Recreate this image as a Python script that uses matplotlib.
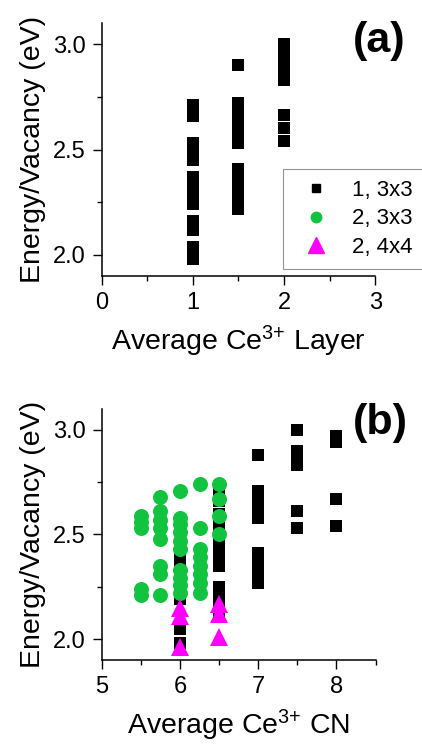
import matplotlib
matplotlib.use('Agg')
import matplotlib.pyplot as plt
from matplotlib.lines import Line2D
from matplotlib.ticker import MultipleLocator, FormatStrFormatter

plt.rcParams['font.family'] = ['Liberation Sans', 'DejaVu Sans']
plt.rcParams['mathtext.fontset'] = 'custom'
plt.rcParams['mathtext.rm'] = 'Liberation Sans'
plt.rcParams['mathtext.default'] = 'regular'

# panel (a): energy vs average Ce3+ layer (set "1, 3x3")
layer_x = [1.0, 1.5, 2.0]
layer_e = [
    [2.71, 2.66, 2.53, 2.49, 2.45, 2.37, 2.32, 2.28, 2.24, 2.16, 2.12, 2.04, 1.98],
    [2.90, 2.72, 2.68, 2.63, 2.58, 2.53, 2.41, 2.36, 2.31, 2.27, 2.22],
    [3.00, 2.97, 2.94, 2.90, 2.87, 2.83, 2.665, 2.60, 2.54],
]

# panel (b): energy vs average Ce3+ CN
sq_cn = [6.0, 6.5, 7.0, 7.5, 8.0]
sq_e = [
    [2.39, 2.34, 2.29, 2.24, 2.19, 2.05, 1.98],
    [2.70, 2.66, 2.60, 2.55, 2.50, 2.45, 2.40, 2.35, 2.25, 2.21, 2.17, 2.13],
    [2.88, 2.71, 2.67, 2.63, 2.58, 2.41, 2.36, 2.31, 2.27],
    [3.00, 2.90, 2.87, 2.83, 2.61, 2.53],
    [2.97, 2.94, 2.67, 2.54],
]
circ_cn = [5.5, 5.75, 6.0, 6.25, 6.5]
circ_e = [
    [2.59, 2.56, 2.53, 2.24, 2.21],
    [2.68, 2.61, 2.57, 2.53, 2.48, 2.35, 2.31, 2.21],
    [2.71, 2.58, 2.55, 2.51, 2.47, 2.43, 2.33, 2.29, 2.26, 2.22],
    [2.74, 2.53, 2.43, 2.39, 2.35, 2.31, 2.27, 2.22],
    [2.74, 2.67, 2.59, 2.50],
]
tri_cn = [6.0, 6.5]
tri_e = [
    [2.15, 2.11, 1.96],
    [2.17, 2.12, 2.01],
]

labels = ['1, 3x3', '2, 3x3', '2, 4x4']
green = '#12C340'
magenta = '#FF00FF'

fig = plt.figure(figsize=(4.22, 7.46), dpi=100)
ax1 = fig.add_axes([0.241, 0.630, 0.648, 0.339])
ax2 = fig.add_axes([0.241, 0.1153, 0.649, 0.3365])


def style(ax):
    for s in ['top', 'right']:
        ax.spines[s].set_visible(False)
    for s in ['left', 'bottom']:
        ax.spines[s].set_linewidth(1.1)
    ax.tick_params(which='major', direction='out', length=6.5, width=1.0,
                   labelsize=17, pad=5)
    ax.tick_params(which='minor', direction='out', length=3.5, width=1.0)
    ax.set_ylim(1.9, 3.1)
    ax.yaxis.set_major_locator(MultipleLocator(0.5))
    ax.yaxis.set_minor_locator(MultipleLocator(0.25))
    ax.yaxis.set_major_formatter(FormatStrFormatter('%.1f'))
    ax.set_ylabel('Energy/Vacancy (eV)', fontsize=20.5, labelpad=5)


sq_kw = dict(marker='s', ms=9.2, color='black', mec='black', mew=0, ls='none')
circ_kw = dict(marker='o', ms=10.8, color=green, mec=green, mew=0, ls='none')
tri_kw = dict(marker='^', ms=12.5, color=magenta, mec=magenta, mew=0, ls='none')

# (a)
for x, ys in zip(layer_x, layer_e):
    ax1.plot([x] * len(ys), ys, **sq_kw)
style(ax1)
ax1.set_xlim(0, 3)
ax1.xaxis.set_major_locator(MultipleLocator(1))
ax1.xaxis.set_minor_locator(MultipleLocator(0.5))
ax1.set_xlabel('Average Ce$^{3{+}}$ Layer', fontsize=20.5, labelpad=7)
ax1.text(1.014, 0.928, '(a)', transform=ax1.transAxes, fontsize=31,
         fontweight='bold', ha='center', va='center', clip_on=False)

handles = [
    Line2D([], [], marker='s', ms=6, color='black', ls='none'),
    Line2D([], [], marker='o', ms=7.5, color=green, ls='none'),
    Line2D([], [], marker='^', ms=12, color=magenta, ls='none'),
]
leg = ax1.legend(handles, labels, loc='lower left', mode='expand',
                 bbox_to_anchor=(0.662, 0.0265, 0.6, 0.39), fontsize=16,
                 frameon=True, fancybox=False, borderpad=0.5, labelspacing=0.35,
                 handlelength=2.0, handletextpad=0.6, borderaxespad=0)
leg.get_frame().set_edgecolor('#777777')
leg.get_frame().set_linewidth(0.8)

# (b)
for x, ys in zip(sq_cn, sq_e):
    ax2.plot([x] * len(ys), ys, **sq_kw)
for x, ys in zip(circ_cn, circ_e):
    ax2.plot([x] * len(ys), ys, **circ_kw)
for x, ys in zip(tri_cn, tri_e):
    ax2.plot([x] * len(ys), ys, **tri_kw)
style(ax2)
ax2.set_xlim(5, 8.5)
ax2.xaxis.set_major_locator(MultipleLocator(1))
ax2.xaxis.set_minor_locator(MultipleLocator(0.5))
ax2.set_xlabel('Average Ce$^{3{+}}$ CN', fontsize=20.5, labelpad=7)
ax2.text(1.019, 0.944, '(b)', transform=ax2.transAxes, fontsize=31,
         fontweight='bold', ha='center', va='center', clip_on=False)

fig.savefig('out.png', dpi=100)
